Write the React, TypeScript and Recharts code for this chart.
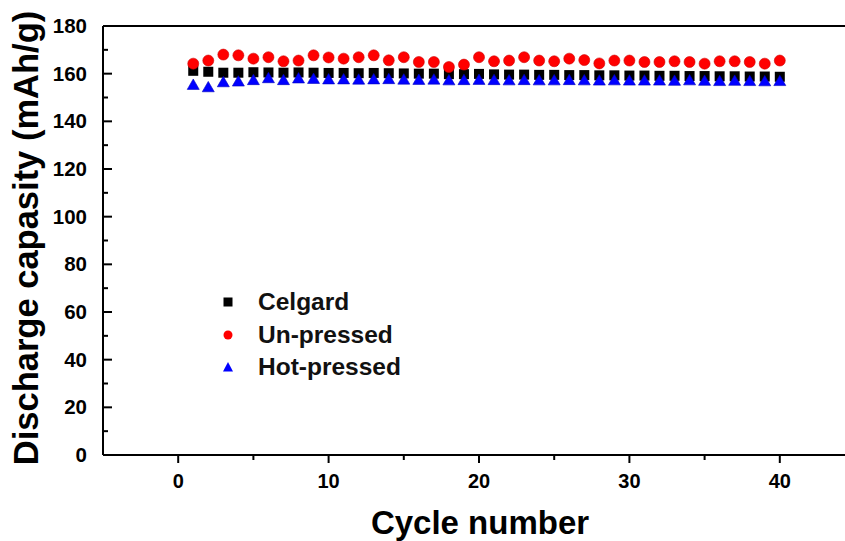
import React from 'react';
import {
  ScatterChart,
  Scatter,
  XAxis,
  YAxis,
  ReferenceLine,
  Legend,
  Label,
} from 'recharts';

// cycle index and discharge capacity (mAh/g) per separator
const cycles = [
  1, 2, 3, 4, 5, 6, 7, 8, 9, 10, 11, 12, 13, 14, 15, 16, 17, 18, 19, 20,
  21, 22, 23, 24, 25, 26, 27, 28, 29, 30, 31, 32, 33, 34, 35, 36, 37, 38, 39, 40,
];

const celgardCapacity = [
  161.2, 160.8, 160.4, 160.4, 160.6, 160.5, 160.4, 160.5, 160.4, 160.3,
  160.3, 160.2, 160.3, 160.2, 160.1, 160.0, 160.0, 159.8, 159.8, 159.9,
  159.7, 159.6, 159.6, 159.5, 159.5, 159.4, 159.4, 159.3, 159.3, 159.2,
  159.2, 159.1, 159.1, 159.0, 159.0, 158.9, 158.9, 158.8, 158.8, 158.7,
];

const unpressedCapacity = [
  164.2, 165.5, 168.0, 167.7, 166.3, 166.9, 165.2, 165.5, 167.7, 166.8,
  166.3, 166.9, 167.7, 165.6, 166.9, 164.9, 164.9, 162.8, 163.8, 166.9,
  165.2, 165.5, 166.9, 165.5, 165.2, 166.3, 165.7, 164.3, 165.5, 165.5,
  164.9, 164.9, 165.2, 164.9, 164.2, 165.2, 165.2, 164.9, 164.2, 165.5,
];

const hotpressedCapacity = [
  155.5, 154.5, 156.6, 156.9, 157.5, 158.3, 157.5, 158.2, 158.0, 157.8,
  157.8, 157.7, 157.8, 157.9, 157.7, 157.6, 157.7, 157.4, 157.5, 157.6,
  157.5, 157.4, 157.5, 157.4, 157.4, 157.5, 157.4, 157.3, 157.4, 157.3,
  157.3, 157.3, 157.2, 157.4, 157.2, 157.1, 157.2, 157.1, 157.0, 157.1,
];

const xTicks = [0, 5, 10, 15, 20, 25, 30, 35, 40, 45];
const yTicks = [0, 10, 20, 30, 40, 50, 60, 70, 80, 90, 100, 110, 120, 130, 140, 150, 160, 170, 180];

const FONT = '"Liberation Sans", Arial, sans-serif';

const toPoints = (values: number[]) => cycles.map((c, i) => ({ x: c, y: values[i] }));

const SquareDot = (props: any) => {
  const { cx, cy } = props;
  return <rect x={cx - 5} y={cy - 5} width={10} height={10} fill="#000" />;
};

const CircleDot = (props: any) => {
  const { cx, cy } = props;
  return <circle cx={cx} cy={cy} r={5.5} fill="#ff0000" stroke="#d00000" strokeWidth={0.6} />;
};

const TriangleDot = (props: any) => {
  const { cx, cy } = props;
  const pts = `${cx},${cy - 5.4} ${cx + 6},${cy + 5} ${cx - 6},${cy + 5}`;
  return <polygon points={pts} fill="#0000ff" stroke="#0000c0" strokeWidth={0.6} />;
};

const XTick = (props: any) => {
  const { x, y, payload } = props;
  const major = payload.value % 10 === 0;
  return (
    <g>
      <line x1={x} y1={y} x2={x} y2={y + (major ? 8 : 5)} stroke="#000" strokeWidth={2} />
      {major && (
        <text x={x} y={y + 33} textAnchor="middle" fontFamily={FONT} fontWeight="bold" fontSize={20} fill="#000">
          {payload.value}
        </text>
      )}
    </g>
  );
};

const YTick = (props: any) => {
  const { x, y, payload } = props;
  const major = payload.value % 20 === 0;
  return (
    <g>
      <line x1={x} y1={y} x2={x + (major ? 9 : 5)} y2={y} stroke="#000" strokeWidth={2} />
      {major && (
        <text x={x - 16} y={y + 7} textAnchor="end" fontFamily={FONT} fontWeight="bold" fontSize={20.5} fill="#000">
          {payload.value}
        </text>
      )}
    </g>
  );
};

const legendItems = [
  { name: 'Celgard', icon: <rect x={3.5} y={3.5} width={9} height={9} fill="#000" /> },
  { name: 'Un-pressed', icon: <circle cx={8} cy={8} r={4.5} fill="#ff0000" /> },
  { name: 'Hot-pressed', icon: <polygon points="8,3 13,12.5 3,12.5" fill="#0000ff" /> },
];

const renderLegend = () => (
  <div style={{ fontFamily: FONT, fontWeight: 'bold', fontSize: 24.5, color: '#111' }}>
    {legendItems.map((item) => (
      <div key={item.name} style={{ display: 'flex', alignItems: 'center', height: 32.5 }}>
        <svg width={16} height={16} style={{ marginRight: 22 }}>
          {item.icon}
        </svg>
        <span>{item.name}</span>
      </div>
    ))}
  </div>
);

export default function App() {
  return (
    <div
      style={{
        position: 'fixed',
        left: 0,
        top: 0,
        width: 845,
        height: 541,
        overflow: 'hidden',
        background: '#fff',
      }}
    >
      <ScatterChart width={870} height={541} margin={{ top: 26, right: 15, bottom: 0, left: 0 }}>
        <XAxis
          type="number"
          dataKey="x"
          domain={[-5, 45]}
          ticks={xTicks}
          interval={0}
          height={86}
          tickSize={0}
          tickMargin={0}
          tickLine={false}
          tick={<XTick />}
          axisLine={{ stroke: '#000', strokeWidth: 2 }}
        >
          <Label
            content={() => (
              <text x={480} y={534} textAnchor="middle" fontFamily={FONT} fontWeight="bold" fontSize={33} fill="#000">
                Cycle number
              </text>
            )}
          />
        </XAxis>
        <YAxis
          type="number"
          dataKey="y"
          domain={[0, 180]}
          ticks={yTicks}
          interval={0}
          width={103}
          tickSize={0}
          tickMargin={0}
          tickLine={false}
          tick={<YTick />}
          axisLine={{ stroke: '#000', strokeWidth: 2 }}
        >
          <Label
            content={() => (
              <text
                x={38}
                y={238}
                transform="rotate(-90, 38, 238)"
                textAnchor="middle"
                fontFamily={FONT}
                fontWeight="bold"
                fontSize={34.5}
                fill="#000"
              >
                Discharge capasity (mAh/g)
              </text>
            )}
          />
        </YAxis>
        <ReferenceLine y={180} stroke="#000" strokeWidth={2} />
        <Legend
          layout="horizontal"
          verticalAlign="middle"
          align="center"
          content={renderLegend}
          wrapperStyle={{ left: 220, top: 286, width: 240 }}
        />
        <Scatter name="Celgard" data={toPoints(celgardCapacity)} shape={<SquareDot />} isAnimationActive={false} />
        <Scatter name="Un-pressed" data={toPoints(unpressedCapacity)} shape={<CircleDot />} isAnimationActive={false} />
        <Scatter name="Hot-pressed" data={toPoints(hotpressedCapacity)} shape={<TriangleDot />} isAnimationActive={false} />
      </ScatterChart>
    </div>
  );
}
